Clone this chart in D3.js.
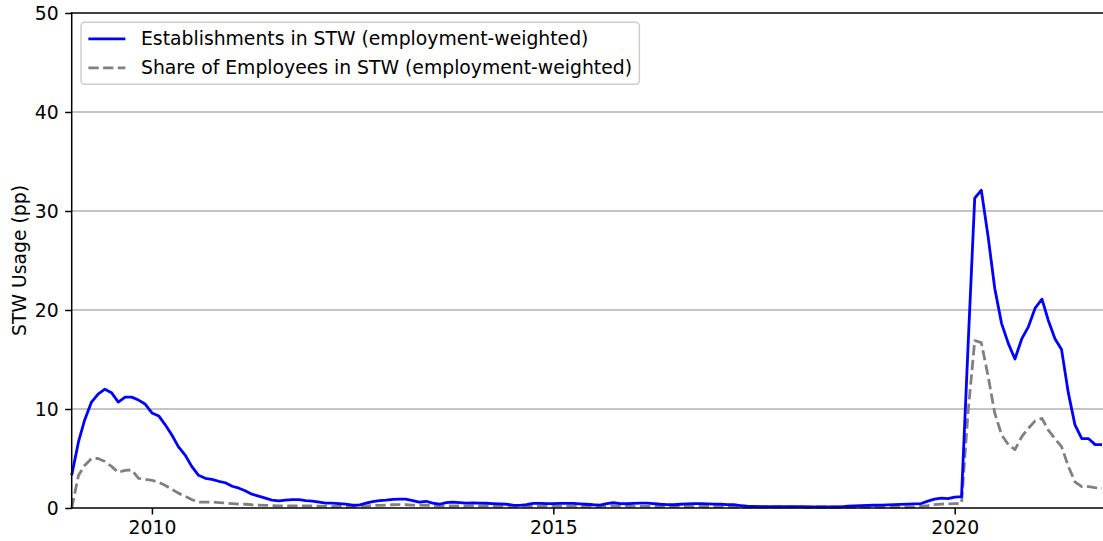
<!DOCTYPE html>
<html>
<head>
<meta charset="utf-8">
<script src="https://cdn.jsdelivr.net/npm/d3@7"></script>
<style>
  html, body { margin: 0; padding: 0; background: #ffffff; }
  svg { display: block; }
  text { font-family: "DejaVu Sans", sans-serif; }
</style>
</head>
<body>
<svg id="chart" width="1103" height="541"></svg>
<script>
// Monthly observations, Jan 2009 .. Nov 2021
const startYear = 2009;
const startMonth = 0;

const establishmentsSTW = [
  // 2009
  3.3, 6.7, 8.9, 10.7, 11.5, 12.0, 11.65, 10.7, 11.2, 11.2, 10.9, 10.5,
  // 2010
  9.6, 9.3, 8.45, 7.4, 6.2, 5.35, 4.2, 3.3, 3.0, 2.9, 2.7, 2.55,
  // 2011
  2.2, 2.0, 1.75, 1.4, 1.2, 1.0, 0.8, 0.72, 0.8, 0.85, 0.85, 0.75,
  // 2012
  0.7, 0.6, 0.5, 0.5, 0.45, 0.4, 0.28, 0.3, 0.5, 0.65, 0.75, 0.8,
  // 2013
  0.87, 0.9, 0.9, 0.75, 0.6, 0.68, 0.5, 0.38, 0.55, 0.6, 0.55, 0.5,
  // 2014
  0.52, 0.5, 0.48, 0.45, 0.42, 0.38, 0.3, 0.27, 0.35, 0.47, 0.47, 0.45,
  // 2015
  0.45, 0.47, 0.47, 0.47, 0.42, 0.38, 0.33, 0.3, 0.45, 0.53, 0.45, 0.43,
  // 2016
  0.47, 0.5, 0.5, 0.45, 0.38, 0.35, 0.33, 0.38, 0.42, 0.45, 0.45, 0.42,
  // 2017
  0.4, 0.38, 0.35, 0.33, 0.25, 0.18, 0.15, 0.13, 0.13, 0.13, 0.13, 0.13,
  // 2018
  0.13, 0.13, 0.12, 0.12, 0.12, 0.1, 0.1, 0.12, 0.18, 0.22, 0.25, 0.27,
  // 2019
  0.28, 0.3, 0.32, 0.35, 0.37, 0.4, 0.42, 0.45, 0.7, 0.9, 1.0, 0.95,
  // 2020
  1.1, 1.15, 16.0, 31.3, 32.1, 27.4, 22.2, 18.65, 16.6, 15.05, 17.1, 18.3,
  // 2021
  20.2, 21.1, 19.0, 17.1, 16.0, 11.6, 8.4, 7.0, 7.0, 6.4, 6.4
];

const employeesSTW = [
  // 2009
  0.0, 3.3, 4.3, 5.0, 5.0, 4.7, 4.2, 3.6, 3.8, 3.85, 3.0, 2.9,
  // 2010
  2.8, 2.6, 2.3, 1.9, 1.5, 1.2, 0.85, 0.6, 0.6, 0.6, 0.55, 0.5,
  // 2011
  0.45, 0.4, 0.38, 0.33, 0.3, 0.27, 0.25, 0.22, 0.22, 0.22, 0.22, 0.2,
  // 2012
  0.2, 0.18, 0.17, 0.17, 0.15, 0.15, 0.13, 0.15, 0.2, 0.25, 0.27, 0.3,
  // 2013
  0.33, 0.35, 0.33, 0.3, 0.3, 0.28, 0.25, 0.2, 0.2, 0.2, 0.2, 0.2,
  // 2014
  0.2, 0.2, 0.18, 0.18, 0.17, 0.17, 0.15, 0.15, 0.17, 0.18, 0.18, 0.18,
  // 2015
  0.18, 0.18, 0.18, 0.18, 0.17, 0.17, 0.15, 0.15, 0.17, 0.18, 0.18, 0.17,
  // 2016
  0.17, 0.17, 0.17, 0.15, 0.15, 0.15, 0.15, 0.15, 0.15, 0.15, 0.15, 0.15,
  // 2017
  0.13, 0.12, 0.12, 0.12, 0.1, 0.1, 0.1, 0.1, 0.1, 0.1, 0.1, 0.1,
  // 2018
  0.1, 0.1, 0.1, 0.1, 0.1, 0.1, 0.1, 0.1, 0.1, 0.1, 0.1, 0.1,
  // 2019
  0.1, 0.1, 0.1, 0.1, 0.1, 0.1, 0.12, 0.18, 0.25, 0.35, 0.4, 0.42,
  // 2020
  0.45, 0.45, 9.5, 16.9, 16.7, 13.3, 9.6, 7.4, 6.4, 5.9, 7.2, 8.05,
  // 2021
  8.8, 9.05, 7.9, 7.0, 6.2, 4.2, 2.65, 2.15, 2.15, 2.05, 2.0
];

const seriesLabels = [
  "Establishments in STW (employment-weighted)",
  "Share of Employees in STW (employment-weighted)"
];
const yTickValues = [0, 10, 20, 30, 40, 50];
const xTickYears = [2010, 2015, 2020];
const yAxisLabel = "STW Usage (pp)";

// ---- layout ----
const W = 1103, H = 541;
const plotLeft = 71.7, plotRight = 1102, plotTop = 13, plotBottom = 508;
const fs = 18.8;
const tickLen = 6.5, tickPad = 6.5;

const dates = establishmentsSTW.map((_, i) => new Date(startYear, startMonth + i, 1));

const svg = d3.select("#chart");

const x = d3.scaleTime()
  .domain([dates[0], dates[dates.length - 1]])
  .range([plotLeft, plotRight]);
const y = d3.scaleLinear().domain([0, 50]).range([plotBottom, plotTop]);

// grid
svg.append("g")
  .selectAll("line")
  .data(yTickValues.filter(v => v > 0 && v < 50))
  .join("line")
  .attr("x1", plotLeft).attr("x2", W)
  .attr("y1", d => y(d)).attr("y2", d => y(d))
  .attr("stroke", "#b0b0b0")
  .attr("stroke-width", 1.4);

// lines
const lineGen = vals => d3.line()
  .x((d, i) => x(dates[i]))
  .y(d => y(d))(vals);

svg.append("path")
  .attr("d", lineGen(employeesSTW))
  .attr("fill", "none")
  .attr("stroke", "#808080")
  .attr("stroke-width", 2.8)
  .attr("stroke-dasharray", "10.3,4.4")
  .attr("stroke-linejoin", "round");

svg.append("path")
  .attr("d", lineGen(establishmentsSTW))
  .attr("fill", "none")
  .attr("stroke", "#0000ff")
  .attr("stroke-width", 2.8)
  .attr("stroke-linejoin", "round")
  .attr("stroke-linecap", "butt");

// axes
const yAxis = d3.axisLeft(y)
  .tickValues(yTickValues)
  .tickSize(tickLen)
  .tickPadding(tickPad)
  .tickFormat(d3.format("d"));
const gy = svg.append("g").attr("transform", `translate(${plotLeft},0)`).call(yAxis);

const xAxis = d3.axisBottom(x)
  .tickValues(xTickYears.map(yr => new Date(yr, 0, 1)))
  .tickSize(tickLen)
  .tickPadding(tickPad)
  .tickFormat(d3.timeFormat("%Y"));
const gx = svg.append("g").attr("transform", `translate(0,${plotBottom})`).call(xAxis);

[gx, gy].forEach(g => {
  g.select(".domain").remove();
  g.selectAll(".tick line").attr("stroke", "#000").attr("stroke-width", 1.5);
  g.selectAll(".tick text")
    .attr("fill", "#000")
    .style("font-size", fs + "px")
    .style("font-family", "'DejaVu Sans', sans-serif");
});

// spines: left, bottom, top
svg.append("line").attr("x1", plotLeft).attr("x2", plotLeft).attr("y1", plotTop).attr("y2", plotBottom)
  .attr("stroke", "#000").attr("stroke-width", 1.5).attr("stroke-linecap", "square");
svg.append("line").attr("x1", plotLeft).attr("x2", W).attr("y1", plotBottom).attr("y2", plotBottom)
  .attr("stroke", "#000").attr("stroke-width", 1.5).attr("stroke-linecap", "square");
svg.append("line").attr("x1", plotLeft).attr("x2", W).attr("y1", plotTop).attr("y2", plotTop)
  .attr("stroke", "#000").attr("stroke-width", 1.5).attr("stroke-linecap", "square");

// y label
svg.append("text")
  .attr("transform", `translate(26,${(plotTop + plotBottom) / 2}) rotate(-90)`)
  .attr("text-anchor", "middle")
  .style("font-size", fs + "px")
  .text(yAxisLabel);

// legend
const lg = svg.append("g").attr("transform", `translate(${plotLeft + 9.3},${plotTop + 9.3})`);
const rowH = 29;
const lgItems = [
  { label: seriesLabels[0], color: "#0000ff", dash: null },
  { label: seriesLabels[1], color: "#808080", dash: "10.3,4.4" }
];
const box = lg.append("rect")
  .attr("x", 0).attr("y", 0)
  .attr("rx", 3.7).attr("ry", 3.7)
  .attr("fill", "#ffffff").attr("fill-opacity", 0.8)
  .attr("stroke", "#cccccc").attr("stroke-width", 1.4);
const rows = lg.selectAll("g.item").data(lgItems).join("g")
  .attr("class", "item")
  .attr("transform", (d, i) => `translate(0,${16.5 + i * rowH})`);
rows.append("line")
  .attr("x1", 7.4).attr("x2", 44.4)
  .attr("y1", 0).attr("y2", 0)
  .attr("stroke", d => d.color)
  .attr("stroke-width", 2.8)
  .attr("stroke-dasharray", d => d.dash);
rows.append("text")
  .attr("x", 60).attr("y", 0)
  .attr("dy", "0.35em")
  .style("font-size", fs + "px")
  .text(d => d.label);
let maxW = 0;
rows.selectAll("text").each(function () { maxW = Math.max(maxW, this.getComputedTextLength()); });
box.attr("width", 60 + maxW + 7.4).attr("height", 16.5 + rowH + 16.5);
</script>
</body>
</html>
